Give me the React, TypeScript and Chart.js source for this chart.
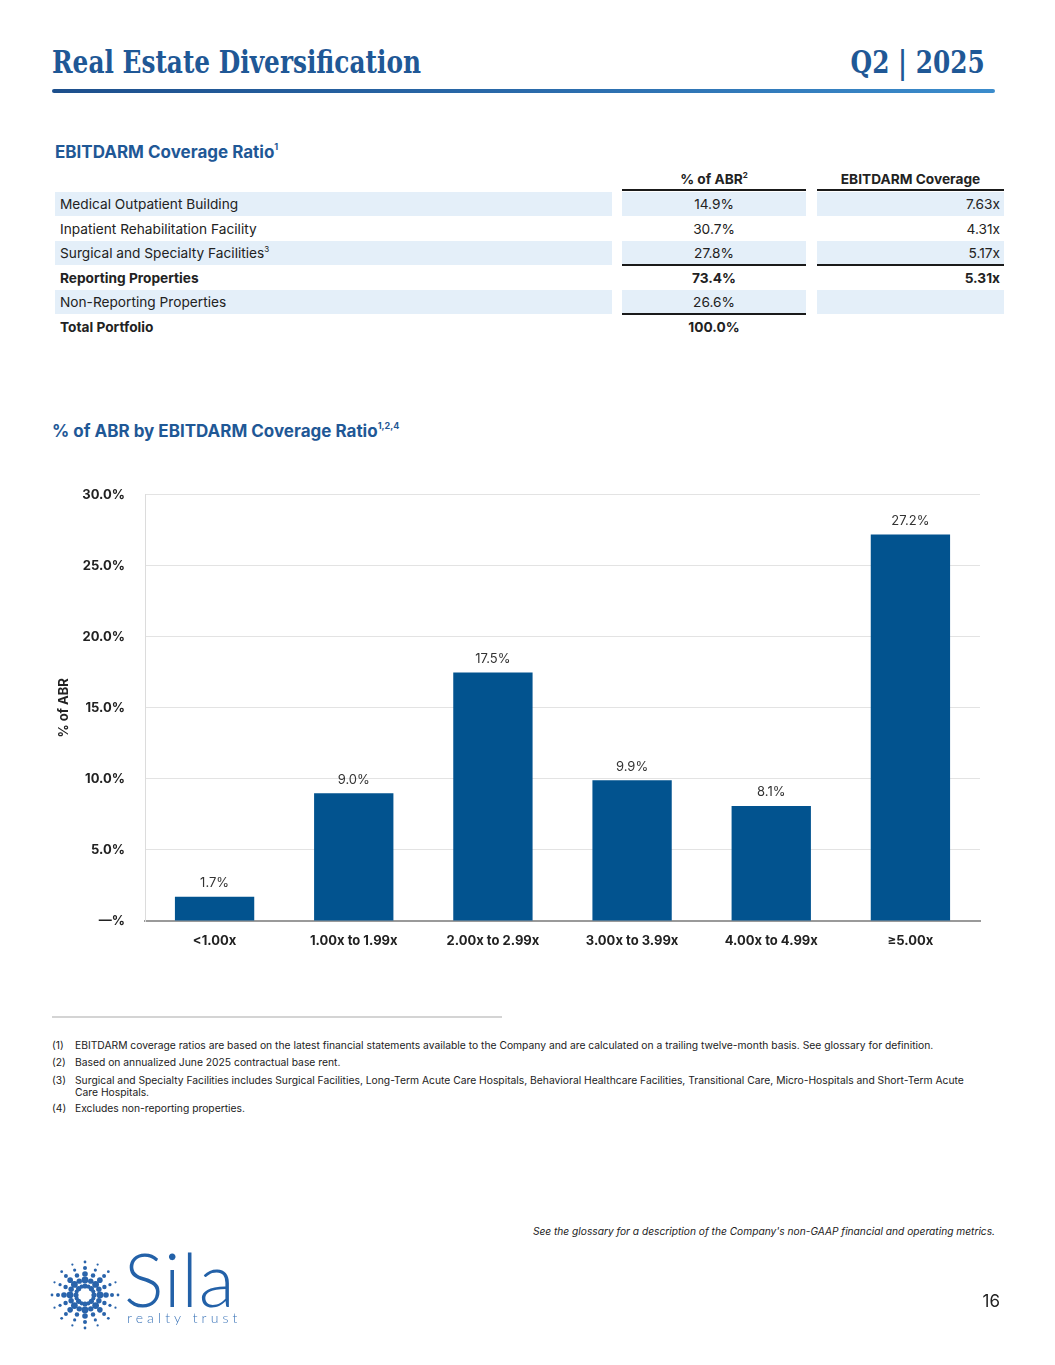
import React, { useEffect, useRef } from "react";
import { Chart, registerables } from "chart.js";

Chart.register(...registerables);

// ---------- Data ----------
const categories = ["<1.00x", "1.00x to 1.99x", "2.00x to 2.99x", "3.00x to 3.99x", "4.00x to 4.99x", "≥5.00x"];
const abrShare = [1.7, 9.0, 17.5, 9.9, 8.1, 27.2];
const yTickMax = 30;
const yTickStep = 5;

const tableLabels = [
  "Medical Outpatient Building",
  "Inpatient Rehabilitation Facility",
  "Surgical and Specialty Facilities",
  "Reporting Properties",
  "Non-Reporting Properties",
  "Total Portfolio",
];
const tableLabelSup = ["", "", "3", "", "", ""];
const tableAbr = ["14.9%", "30.7%", "27.8%", "73.4%", "26.6%", "100.0%"];
const tableCoverage = ["7.63x", "4.31x", "5.17x", "5.31x", "", ""];
const tableBold = [false, false, false, true, false, true];
const tableShaded = [true, false, true, false, true, false];

const footnotes = [
  "EBITDARM coverage ratios are based on the latest financial statements available to the Company and are calculated on a trailing twelve-month basis. See glossary for definition.",
  "Based on annualized June 2025 contractual base rent.",
  "Surgical and Specialty Facilities includes Surgical Facilities, Long-Term Acute Care Hospitals, Behavioral Healthcare Facilities, Transitional Care, Micro-Hospitals and Short-Term Acute Care Hospitals.",
  "Excludes non-reporting properties.",
];

const BLUE = "#1f5896";
const BAR = "#02538f";
const SANS = "Inter, 'Noto Sans', Arial, sans-serif";

const valueLabelPlugin = {
  id: "valueLabels",
  afterDatasetsDraw(chart: any) {
    const ctx = chart.ctx;
    const meta = chart.getDatasetMeta(0);
    ctx.save();
    ctx.font = `400 13px ${SANS}`;
    ctx.fillStyle = "#333333";
    ctx.textAlign = "center";
    ctx.textBaseline = "bottom";
    meta.data.forEach((bar: any, i: number) => {
      const v = chart.data.datasets[0].data[i] as number;
      ctx.fillText(v.toFixed(1) + "%", bar.x, bar.y - 7);
    });
    ctx.restore();
  },
};

function BarChart() {
  const ref = useRef<HTMLCanvasElement>(null);
  useEffect(() => {
    if (!ref.current) return;
    const chart = new Chart(ref.current, {
      type: "bar",
      data: {
        labels: categories,
        datasets: [
          {
            data: abrShare,
            backgroundColor: BAR,
            categoryPercentage: 1,
            barPercentage: 0.57,
          },
        ],
      },
      options: {
        animation: false,
        responsive: false,
        maintainAspectRatio: false,
        layout: { padding: { top: 10, right: 10, left: 0, bottom: 0 } },
        plugins: { legend: { display: false }, tooltip: { enabled: false } },
        scales: {
          x: {
            grid: { display: false, drawTicks: false },
            border: { color: "#9a9a9a", width: 2 },
            ticks: {
              color: "#222",
              font: { family: SANS, size: 13, weight: "bold" },
              padding: 12,
            },
            afterFit(scale: any) {
              scale.height = 38;
            },
          },
          y: {
            min: 0,
            max: yTickMax,
            grid: {
              color: (c: any) => (c.tick && c.tick.value === 0 ? "rgba(0,0,0,0)" : "#e3e3e3"),
              lineWidth: 1,
              drawTicks: false,
            },
            border: { color: "#dcdcdc", width: 1 },
            ticks: {
              stepSize: yTickStep,
              color: "#222",
              padding: 20,
              font: { family: SANS, size: 13, weight: "bold" },
              callback: (v: any) => (Number(v) === 0 ? "—%" : Number(v).toFixed(1) + "%"),
            },
            title: {
              display: true,
              text: "% of ABR",
              color: "#222",
              font: { family: SANS, size: 13, weight: "bold" },
              padding: { top: 16, bottom: 0 },
            },
            afterFit(scale: any) {
              scale.width = 105;
            },
          },
        },
      },
      plugins: [valueLabelPlugin],
    });
    return () => chart.destroy();
  }, []);
  return (
    <canvas
      ref={ref}
      width={950}
      height={492}
      style={{ position: "absolute", left: 40, top: 467, width: 950, height: 492 }}
    />
  );
}

function Logo() {
  const dots: React.ReactElement[] = [];
  const cx = 85;
  const cy = 1295;
  const rays = 16;
  const radii = [9, 15, 21, 27, 33];
  const sizes = [2.6, 3.4, 2.8, 2.0, 1.4];
  for (let r = 0; r < rays; r++) {
    const a = (r / rays) * Math.PI * 2;
    radii.forEach((rad, k) => {
      const s = r % 2 === 0 ? sizes[k] : sizes[k] * 0.8;
      dots.push(
        <circle key={`${r}-${k}`} cx={cx + Math.cos(a) * rad} cy={cy + Math.sin(a) * rad} r={s} fill="#2a64ab" />
      );
    });
  }
  return (
    <>
      <svg width={1055} height={1365} style={{ position: "absolute", left: 0, top: 0, pointerEvents: "none" }}>
        {dots}
      </svg>
      <div
        style={{
          position: "absolute",
          left: 124,
          top: 1242,
          fontFamily: "Lato, " + SANS,
          fontWeight: 300,
          fontSize: 74,
          lineHeight: "74px",
          color: "#2361a8",
          letterSpacing: 1,
        }}
      >
        Sila
      </div>
      <div
        style={{
          position: "absolute",
          left: 127,
          top: 1310,
          fontFamily: "Lato, " + SANS,
          fontWeight: 300,
          fontSize: 14,
          lineHeight: "16px",
          color: "#3b74b8",
          letterSpacing: 4.1,
        }}
      >
        realty trust
      </div>
    </>
  );
}

export default function App() {
  const rowTop = 192;
  const rowH = 24.5;
  const col1 = { left: 55, width: 557 };
  const col2 = { left: 622, width: 184 };
  const col3 = { left: 817, width: 187 };
  const cellText: React.CSSProperties = {
    position: "absolute",
    fontFamily: SANS,
    fontSize: 13.7,
    color: "#222",
    lineHeight: "25px",
    whiteSpace: "nowrap",
  };
  const lines = [
    { y: 189, cols: [col2, col3] },
    { y: 264, cols: [col2, col3] },
    { y: 313, cols: [col2] },
  ];
  const footTops = [1039, 1056, 1074, 1102];
  const serif: React.CSSProperties = {
    position: "absolute",
    top: 41,
    fontFamily: "'DejaVu Serif', 'Liberation Serif', serif",
    fontWeight: 700,
    fontSize: 31,
    lineHeight: "42px",
    color: BLUE,
    transform: "scaleX(0.8)",
    whiteSpace: "nowrap",
  };
  return (
    <div
      style={{
        position: "absolute",
        left: 0,
        top: 0,
        width: 1055,
        height: 1365,
        background: "#fff",
        overflow: "hidden",
        fontFamily: SANS,
      }}
    >
      {/* Header */}
      <div style={{ ...serif, left: 52, transformOrigin: "left center" }}>Real Estate Diversification</div>
      <div style={{ ...serif, right: 70, transformOrigin: "right center" }}>Q2 | 2025</div>
      <div
        style={{
          position: "absolute",
          left: 52,
          top: 89,
          width: 943,
          height: 4,
          borderRadius: 2,
          background: "linear-gradient(90deg, #1d4f8c 0%, #2a6aaa 50%, #3b8ccc 100%)",
        }}
      />

      {/* Table title */}
      <div
        style={{
          position: "absolute",
          left: 55,
          top: 136,
          fontSize: 17,
          fontWeight: 700,
          color: BLUE,
          lineHeight: "22px",
          whiteSpace: "nowrap",
        }}
      >
        EBITDARM Coverage Ratio<sup style={{ fontSize: 9, verticalAlign: 8 }}>1</sup>
      </div>

      {/* Table header */}
      <div style={{ ...cellText, left: col2.left, width: col2.width, top: 167, textAlign: "center", fontWeight: 700 }}>
        % of ABR<sup style={{ fontSize: 8, verticalAlign: 6, lineHeight: 0 }}>2</sup>
      </div>
      <div style={{ ...cellText, left: col3.left, width: col3.width, top: 167, textAlign: "center", fontWeight: 700 }}>
        EBITDARM Coverage
      </div>

      {tableLabels.map((lab, i) => {
        const top = rowTop + i * rowH;
        const fw = tableBold[i] ? 700 : 400;
        return (
          <React.Fragment key={lab}>
            {tableShaded[i] && (
              <>
                <div style={{ position: "absolute", left: col1.left, width: col1.width, top, height: 24, background: "#e4eff9" }} />
                <div style={{ position: "absolute", left: col2.left, width: col2.width, top, height: 24, background: "#e4eff9" }} />
                <div style={{ position: "absolute", left: col3.left, width: col3.width, top, height: 24, background: "#e4eff9" }} />
              </>
            )}
            <div style={{ ...cellText, left: 60, top, fontWeight: fw }}>
              {lab}
              {tableLabelSup[i] && <sup style={{ fontSize: 8, verticalAlign: 6, lineHeight: 0 }}>{tableLabelSup[i]}</sup>}
            </div>
            <div style={{ ...cellText, left: col2.left, width: col2.width, top, textAlign: "center", fontWeight: fw }}>
              {tableAbr[i]}
            </div>
            <div style={{ ...cellText, left: col3.left, width: col3.width - 4, top, textAlign: "right", fontWeight: fw }}>
              {tableCoverage[i]}
            </div>
          </React.Fragment>
        );
      })}
      {lines.map((l) =>
        l.cols.map((c, k) => (
          <div
            key={`${l.y}-${k}`}
            style={{ position: "absolute", left: c.left, width: c.width, top: l.y, height: 2, background: "#1a1a1a" }}
          />
        ))
      )}

      {/* Chart title */}
      <div
        style={{
          position: "absolute",
          left: 52,
          top: 415,
          fontSize: 17,
          fontWeight: 700,
          color: BLUE,
          lineHeight: "22px",
          whiteSpace: "nowrap",
        }}
      >
        % of ABR by EBITDARM Coverage Ratio<sup style={{ fontSize: 9, verticalAlign: 8 }}>1,2,4</sup>
      </div>

      <BarChart />

      {/* Footnote separator */}
      <div style={{ position: "absolute", left: 52, top: 1016, width: 450, height: 2, background: "#d4d4d4" }} />

      {footnotes.map((f, i) => (
        <div
          key={i}
          style={{
            position: "absolute",
            left: 52,
            top: footTops[i],
            width: 930,
            fontSize: 10.3,
            lineHeight: "12px",
            color: "#222",
            display: "flex",
          }}
        >
          <span style={{ width: 23, flex: "none" }}>({i + 1})</span>
          <span>{f}</span>
        </div>
      ))}

      <div
        style={{
          position: "absolute",
          right: 60,
          top: 1224,
          fontSize: 10.2,
          fontStyle: "italic",
          color: "#222",
          lineHeight: "14px",
          whiteSpace: "nowrap",
        }}
      >
        See the glossary for a description of the Company's non-GAAP financial and operating metrics.
      </div>

      <Logo />

      <div style={{ position: "absolute", right: 55, top: 1290, fontSize: 17, color: "#222", lineHeight: "22px" }}>16</div>
    </div>
  );
}
